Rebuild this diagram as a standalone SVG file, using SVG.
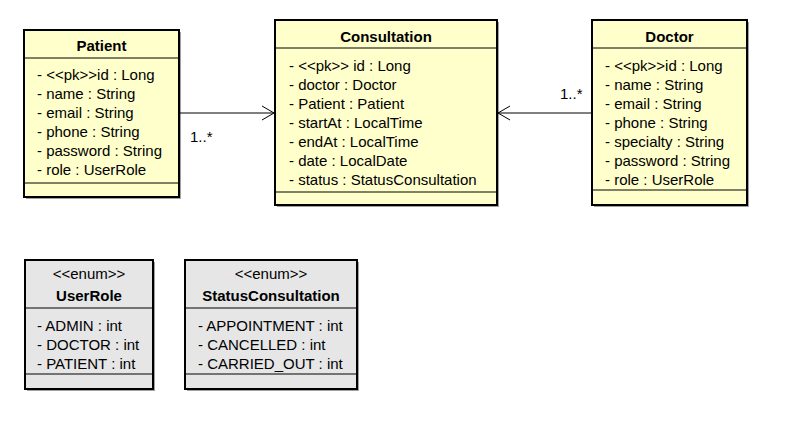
<svg xmlns="http://www.w3.org/2000/svg" width="797" height="425" viewBox="0 0 797 425">
<style>
.box{fill:#FFFFCC;stroke:#000;stroke-width:2}
.enum{fill:#E6E6E6;stroke:#000;stroke-width:2}
.sh{fill:#444;opacity:0.5}
.div{stroke:#000;stroke-width:1}
text{font-family:"Liberation Sans",Arial,sans-serif;font-size:15px;fill:#000}
.title{font-weight:bold;text-anchor:middle}
.st{text-anchor:middle}
.conn{stroke:#000;stroke-width:1;fill:none}
</style>
<rect width="797" height="425" fill="#fff"/>
<g id="Patient">
<rect class="sh" x="26" y="32" width="155" height="167"/>
<rect class="box" x="24" y="30" width="155" height="167"/>
<line class="div" x1="24" y1="58" x2="179" y2="58"/>
<line class="div" x1="24" y1="183" x2="179" y2="183"/>
<text class="title" x="101.5" y="51">Patient</text>
<text x="37" y="80">- &lt;&lt;pk&gt;&gt;id : Long</text>
<text x="37" y="99">- name : String</text>
<text x="37" y="118">- email : String</text>
<text x="37" y="137">- phone : String</text>
<text x="37" y="156">- password : String</text>
<text x="37" y="175">- role : UserRole</text>
</g>
<g id="Consultation">
<rect class="sh" x="277" y="22" width="222" height="185"/>
<rect class="box" x="275" y="20" width="222" height="185"/>
<line class="div" x1="275" y1="48" x2="497" y2="48"/>
<line class="div" x1="275" y1="192" x2="497" y2="192"/>
<text class="title" x="386" y="42">Consultation</text>
<text x="289" y="71">- &lt;&lt;pk&gt;&gt; id : Long</text>
<text x="289" y="90">- doctor : Doctor</text>
<text x="289" y="109">- Patient : Patient</text>
<text x="289" y="128">- startAt : LocalTime</text>
<text x="289" y="147">- endAt : LocalTime</text>
<text x="289" y="166">- date : LocalDate</text>
<text x="289" y="185">- status : StatusConsultation</text>
</g>
<g id="Doctor">
<rect class="sh" x="594" y="22" width="155" height="185"/>
<rect class="box" x="592" y="20" width="155" height="185"/>
<line class="div" x1="592" y1="48" x2="747" y2="48"/>
<line class="div" x1="592" y1="190" x2="747" y2="190"/>
<text class="title" x="669.5" y="42">Doctor</text>
<text x="605" y="71">- &lt;&lt;pk&gt;&gt;id : Long</text>
<text x="605" y="90">- name : String</text>
<text x="605" y="109">- email : String</text>
<text x="605" y="128">- phone : String</text>
<text x="605" y="147">- specialty : String</text>
<text x="605" y="166">- password : String</text>
<text x="605" y="185">- role : UserRole</text>
</g>
<g id="UserRole">
<rect class="sh" x="27" y="262" width="128" height="129"/>
<rect class="enum" x="25" y="260" width="128" height="129"/>
<line class="div" x1="25" y1="308" x2="153" y2="308"/>
<line class="div" x1="25" y1="374" x2="153" y2="374"/>
<text class="st" x="89" y="279">&lt;&lt;enum&gt;&gt;</text>
<text class="title" x="89" y="301">UserRole</text>
<text x="37" y="331">- ADMIN : int</text>
<text x="37" y="350">- DOCTOR : int</text>
<text x="37" y="369">- PATIENT : int</text>
</g>
<g id="StatusConsultation">
<rect class="sh" x="187" y="262" width="172" height="129"/>
<rect class="enum" x="185" y="260" width="172" height="129"/>
<line class="div" x1="185" y1="308" x2="357" y2="308"/>
<line class="div" x1="185" y1="374" x2="357" y2="374"/>
<text class="st" x="271" y="279">&lt;&lt;enum&gt;&gt;</text>
<text class="title" x="271" y="301">StatusConsultation</text>
<text x="198" y="331">- APPOINTMENT : int</text>
<text x="198" y="350">- CANCELLED : int</text>
<text x="198" y="369">- CARRIED_OUT : int</text>
</g>
<g id="connectors">
<line class="conn" x1="180" y1="113" x2="274" y2="113"/>
<polyline class="conn" points="262,106 274,113 262,120"/>
<text x="190" y="142">1..*</text>
<line class="conn" x1="591" y1="113" x2="498" y2="113"/>
<polyline class="conn" points="510,106 498,113 510,120"/>
<text x="560" y="99">1..*</text>
</g>
</svg>
